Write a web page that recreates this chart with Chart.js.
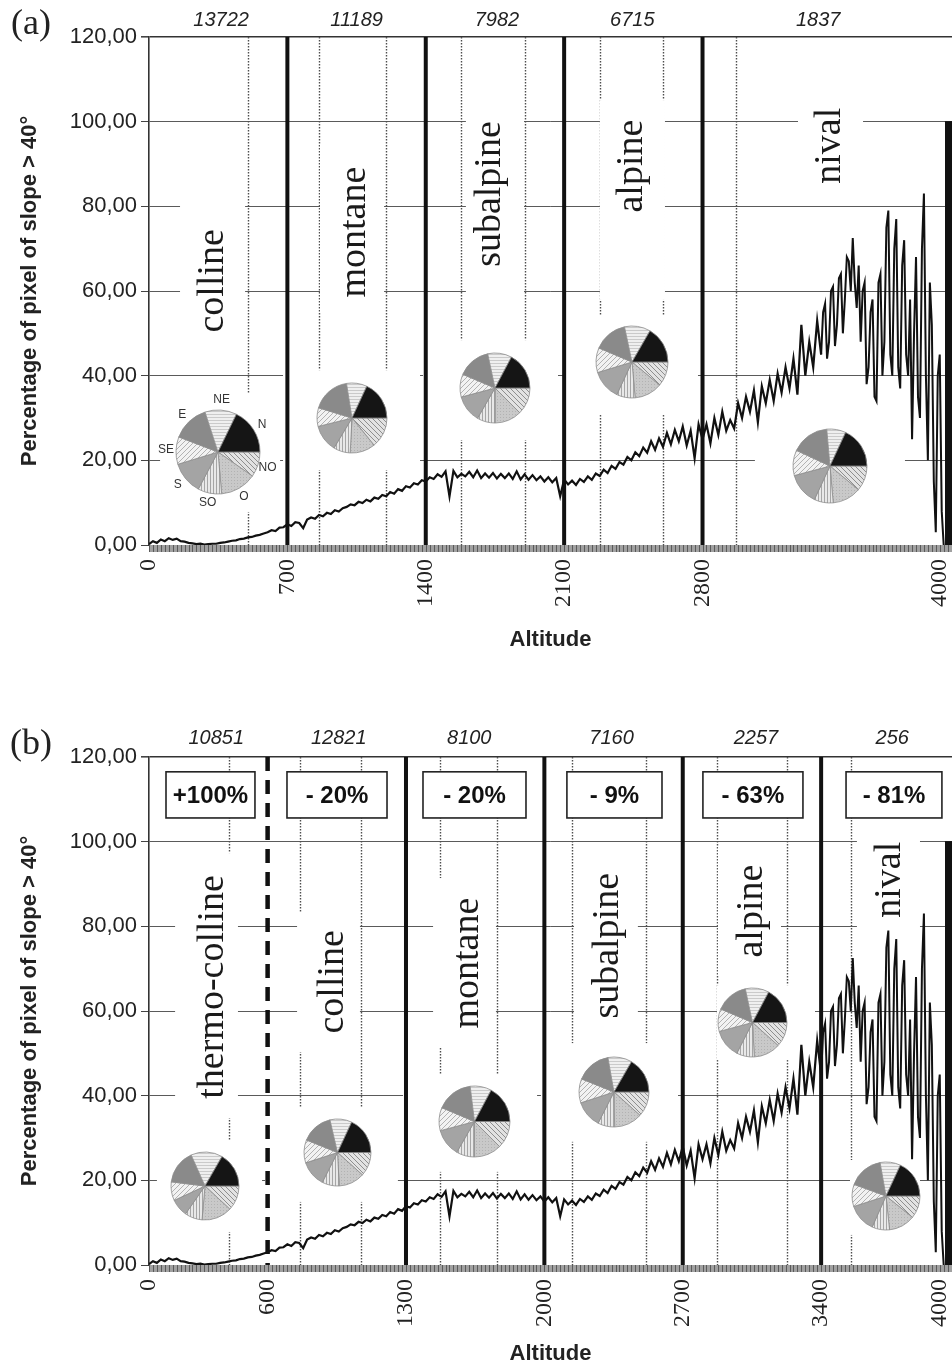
<!DOCTYPE html>
<html>
<head>
<meta charset="utf-8">
<script src="https://cdn.jsdelivr.net/npm/chart.js@4.4.1/dist/chart.umd.min.js"></script>
<style>
  body { margin: 0; background: #fff; }
  #page { position: relative; width: 952px; height: 1367px; overflow: hidden; background: #fff; }
  .panel { position: absolute; left: 0; width: 952px; }
  .pie { position: absolute; }
</style>
</head>
<body>
<div id="page">
  <div class="panel" id="wrapA" style="top:0;height:660px"><canvas id="chartA" width="952" height="660"></canvas></div>
  <div class="panel" id="wrapB" style="top:660px;height:707px"><canvas id="chartB" width="952" height="707"></canvas></div>
</div>
<script>
// ═══════════════════════════════════════
// Slope > 40° vs altitude — two zonings
// ═══════════════════════════════════════

// ── Data ──
// % of pixels with slope > 40°, 20 m altitude bins from 0 to 3400 m
const slopePct = [
  0.2, 0.9, 0.5, 1.3, 0.9, 1.6, 1.2, 1.5, 0.9, 0.8,
  0.5, 0.4, 0.2, 0.3, 0.1, 0.2, 0.3, 0.3, 0.5, 0.6,
  0.8, 1.0, 1.1, 1.4, 1.5, 1.8, 1.9, 2.2, 2.4, 2.7,
  3.0, 3.5, 3.3, 4.1, 4.2, 4.9, 4.5, 5.4, 5.2, 4.0,
  6.0, 6.5, 6.2, 7.1, 6.8, 7.6, 7.3, 8.2, 7.9, 8.7,
  9.0, 9.6, 9.4, 10.2, 9.9, 10.7, 10.3, 11.2, 10.9, 11.8,
  11.5, 12.5, 12.1, 13.2, 12.8, 13.9, 13.6, 14.6, 14.3, 15.3,
  15.0, 16.0, 15.6, 16.7, 16.1, 17.4, 11.5, 17.5, 16.0, 16.8,
  16.2, 17.3, 16.0, 17.6, 15.8, 16.9, 15.9, 17.0, 15.7, 16.8,
  15.8, 16.9, 15.6, 17.4, 15.5, 16.7, 15.4, 16.5, 15.3, 16.2,
  15.0, 16.0, 14.8, 15.8, 11.5, 15.5, 14.3, 15.2, 14.2, 15.6,
  14.9, 16.2, 15.4, 16.9, 16.3, 17.8, 17.0, 18.7, 18.0, 19.6,
  19.0, 20.8, 20.0, 21.9, 21.0, 23.0, 21.8, 24.5, 22.5, 25.2,
  23.2, 26.5, 23.8, 27.2, 24.5, 28.0, 23.5, 27.0, 20.5, 28.5,
  25.0, 28.5, 24.0, 30.0, 26.0, 31.5, 27.0, 29.5, 27.5, 33.5,
  30.0, 35.0, 31.5, 36.5, 29.0, 37.5, 33.5, 39.0, 34.0, 40.5,
  36.0, 42.0, 37.0, 44.0, 35.5, 52.0, 40.0, 48.0, 42.0, 53.0,
  45.0
];
// the noisy top of the range, 10 m bins from 3400 to 4020 m
const slopePctHigh = [
  45, 55, 57, 44, 48, 60, 61, 47, 52, 63,
  64, 50, 58, 68, 67, 60, 72.5, 62, 56, 66,
  48, 60, 62, 38, 42, 55, 58, 35, 34, 62,
  64, 40, 48, 75, 79, 45, 40, 70, 77, 42,
  37, 66, 72, 45, 40, 58, 25, 50, 68, 35,
  30, 70, 83, 40, 20, 62, 52, 15, 3, 40,
  45, 8, 0
];
const altitudes = slopePct.map((_, i) => i * 20);
const altitudesHigh = slopePctHigh.map((_, i) => 3400 + i * 10);
// the last bins (4026 m and above) are all 100 %
const edgeAlt = [4026, 4062];
const edgePct = [100, 100];

const xTicksA = [0, 700, 1400, 2100, 2800, 4000];
const xTicksB = [0, 600, 1300, 2000, 2700, 3400, 4000];

const zonesA = ['colline', 'montane', 'subalpine', 'alpine', 'nival'];
const countsA = ['13722', '11189', '7982', '6715', '1837'];
const limitsA = [700, 1400, 2100, 2800];

const zonesB = ['thermo-colline', 'colline', 'montane', 'subalpine', 'alpine', 'nival'];
const countsB = ['10851', '12821', '8100', '7160', '2257', '256'];
const changeB = ['+100%', '- 20%', '- 20%', '- 9%', '- 63%', '- 81%'];
const limitsB = [1300, 2000, 2700, 3400];
const dashedB = [600];

// aspect pies, clockwise from east: NO, O, SO, S, SE, E, NE, N
const aspects = ['NO', 'O', 'SO', 'S', 'SE', 'E', 'NE', 'N'];
const pieCollineA = [35, 50, 33, 45, 38, 51, 44, 64];
const pieMontaneA = [51, 42, 28, 45, 31, 64, 34, 65];
const pieSubalpineA = [45, 45, 30, 45, 38, 55, 40, 62];
const pieAlpineA = [40, 45, 30, 48, 40, 55, 42, 60];
const pieNivalA = [40, 45, 30, 50, 40, 60, 30, 65];
const pieThermoB = [43, 52, 30, 30, 32, 59, 54, 60];
const pieCollineB = [42, 45, 30, 45, 40, 55, 38, 65];
const pieMontaneB = [45, 45, 30, 45, 38, 60, 35, 62];
const pieSubalpineB = [42, 47, 28, 45, 40, 58, 40, 60];
const pieAlpineB = [42, 45, 30, 48, 38, 55, 40, 62];
const pieNivalB = [39, 45, 30, 48, 38, 60, 35, 65];

// ── Layout (altitude, %) ──
const layoutA = {
  tag: '(a)', tagY: 25, countY: 20,
  zones: zonesA, counts: countsA, limits: limitsA, dashed: [],
  labelAt: [[324, 62.4], [1042, 73.9], [1725, 82.9], [2443, 89.5], [3445, 94.3]],
  countAt: [365, 1050, 1760, 2445, 3385],
  dotted: [500, 860, 1200, 1580, 1900, 2280, 2600, 2970],
  masks: [[157, 486, 41.3, 98], [865, 1189, 55, 94.5], [1603, 1897, 57.9, 104.4], [2281, 2610, 57.9, 105.1], [3283, 3612, 83.9, 105.1],
          [56, 663, 7.8, 35.9], [678, 1371, 17.7, 41.3], [1386, 2069, 24.8, 48.4], [2104, 2777, 30.7, 54.3], [3065, 3824, 8.7, 27.6]],
  boxes: [],
  pies: [
    { alt: 349, v: 22.0, r: 42, data: pieCollineA, named: true },
    { alt: 1027, v: 30.0, r: 35, data: pieMontaneA },
    { alt: 1750, v: 37.1, r: 35, data: pieSubalpineA },
    { alt: 2443, v: 43.2, r: 36, data: pieAlpineA },
    { alt: 3445, v: 18.7, r: 37, data: pieNivalA }
  ]
};
const layoutB = {
  tag: '(b)', tagY: 85, countY: 78,
  zones: zonesB, counts: countsB, limits: limitsB, dashed: dashedB,
  labelAt: [[324, 65.7], [931, 66.9], [1614, 71.3], [2322, 75.4], [3050, 83.6], [3748, 91.0]],
  countAt: [340, 960, 1620, 2340, 3070, 3760],
  dotted: [405, 764, 1072, 1472, 1760, 2140, 2514, 2873, 3227, 3551],
  masks: [[132, 450, 34.7, 97.3], [749, 1067, 50.3, 83.4], [1437, 1755, 51.5, 91.4], [2150, 2473, 52.4, 96.9], [2878, 3197, 68.5, 98.7], [3581, 3900, 78, 101.6],
          [40, 572, 7.8, 29.5], [587, 1259, 14.9, 37.1], [1285, 1963, 22, 44.9], [1983, 2676, 29.1, 52.4], [2873, 3369, 48.4, 66.1], [3546, 3900, 7.1, 24.8]],
  boxes: [[86, 536], [698, 1204], [1386, 1907], [2114, 2595], [2802, 3308], [3526, 4011]],
  boxText: changeB,
  pies: [
    { alt: 283, v: 18.7, r: 34, data: pieThermoB },
    { alt: 956, v: 26.5, r: 33.5, data: pieCollineB },
    { alt: 1649, v: 33.8, r: 35.5, data: pieMontaneB },
    { alt: 2352, v: 40.9, r: 35, data: pieSubalpineB },
    { alt: 3055, v: 57.4, r: 34.5, data: pieAlpineB },
    { alt: 3728, v: 16.3, r: 34, data: pieNivalB }
  ]
};

const SANS = '"Liberation Sans", Arial, sans-serif';
const SERIF = '"Liberation Serif", "Times New Roman", serif';
Chart.defaults.font.family = SANS;

// ── Fill patterns for the aspect slices ──
function pattern(bg, size, draw) {
  const c = document.createElement('canvas');
  c.width = c.height = size;
  const g = c.getContext('2d');
  g.fillStyle = bg; g.fillRect(0, 0, size, size);
  if (draw) { g.lineWidth = 1; draw(g, size); }
  return g.createPattern(c, 'repeat');
}
const hatch = (col, dir) => (g, s) => {
  g.strokeStyle = col; g.beginPath();
  if (dir > 0) { g.moveTo(-1, s + 1); g.lineTo(s + 1, -1); g.moveTo(-1, 1); g.lineTo(1, -1); g.moveTo(s - 1, s + 1); g.lineTo(s + 1, s - 1); }
  else { g.moveTo(-1, -1); g.lineTo(s + 1, s + 1); g.moveTo(s - 1, -1); g.lineTo(s + 1, 1); g.moveTo(-1, s - 1); g.lineTo(1, s + 1); }
  g.stroke();
};
const aspectFill = [
  pattern('#e2e2e2', 5, hatch('#8e8e8e', -1)),                                  // NO
  pattern('#c9c9c9', 3, (g) => { g.fillStyle = '#b2b2b2'; g.fillRect(0, 0, 1, 1); }), // O
  pattern('#e8e8e8', 3, (g) => { g.fillStyle = '#a6a6a6'; g.fillRect(0, 0, 1, 3); }), // SO
  '#a4a4a4',                                                                        // S
  pattern('#f2f2f2', 5, hatch('#b2b2b2', 1)),                                    // SE
  '#8a8a8a',                                                                        // E
  pattern('#efefef', 3, (g) => { g.fillStyle = '#cacaca'; g.fillRect(0, 0, 3, 1); }), // NE
  '#151515'                                                                         // N
];

// ── Zone decorations ──
const zonePlugin = {
  id: 'zones',
  beforeDatasetsDraw(chart, args, o) {
    const { ctx, chartArea: a, scales: { x, y } } = chart;
    ctx.save();
    // dotted sub-divisions
    ctx.strokeStyle = '#4e4e4e'; ctx.lineWidth = 1.4; ctx.setLineDash([1.5, 1.5]);
    o.dotted.forEach(v => {
      const px = Math.round(x.getPixelForValue(v)) + 0.5;
      ctx.beginPath(); ctx.moveTo(px, a.top); ctx.lineTo(px, a.bottom); ctx.stroke();
    });
    ctx.setLineDash([]);
    // white panels behind the names and pies
    ctx.fillStyle = '#fff';
    o.masks.forEach(m => {
      const x0 = x.getPixelForValue(m[0]), x1 = x.getPixelForValue(m[1]);
      const y0 = y.getPixelForValue(m[3]), y1 = y.getPixelForValue(m[2]);
      ctx.fillRect(x0, y0, x1 - x0, y1 - y0);
    });
    // zone limits
    ctx.strokeStyle = '#111'; ctx.lineWidth = 4;
    o.limits.forEach(v => {
      const px = x.getPixelForValue(v);
      ctx.beginPath(); ctx.moveTo(px, a.top); ctx.lineTo(px, a.bottom + 6); ctx.stroke();
    });
    ctx.setLineDash([14, 9]); ctx.lineWidth = 4.5;
    o.dashed.forEach(v => {
      const px = x.getPixelForValue(v);
      ctx.beginPath(); ctx.moveTo(px, a.top); ctx.lineTo(px, a.bottom); ctx.stroke();
    });
    ctx.restore();
  },
  afterDatasetsDraw(chart, args, o) {
    const { ctx, chartArea: a, scales: { x, y } } = chart;
    ctx.save();
    // hatched axis band
    ctx.fillStyle = '#a0a0a0';
    ctx.fillRect(a.left, a.bottom, a.right - a.left, 7);
    ctx.strokeStyle = '#5a5a5a'; ctx.lineWidth = 1;
    for (let v = 0; v <= x.max; v += 20) {
      const px = Math.round(x.getPixelForValue(v)) + 0.5;
      ctx.beginPath(); ctx.moveTo(px, a.bottom); ctx.lineTo(px, a.bottom + 7); ctx.stroke();
    }
    // vertical zone names
    ctx.fillStyle = '#1a1a1a'; ctx.font = '38px ' + SERIF;
    ctx.textAlign = 'center'; ctx.textBaseline = 'middle';
    o.zones.forEach((t, i) => {
      const [al, v] = o.labelAt[i];
      ctx.save();
      ctx.translate(x.getPixelForValue(al), y.getPixelForValue(v));
      ctx.rotate(-Math.PI / 2);
      ctx.fillText(t, 0, 0);
      ctx.restore();
    });
    // pixel counts above the frame
    ctx.font = 'italic 20px ' + SANS; ctx.fillStyle = '#222';
    o.counts.forEach((t, i) => ctx.fillText(t, x.getPixelForValue(o.countAt[i]), o.countY));
    // change boxes
    ctx.font = 'bold 24px ' + SANS;
    o.boxes.forEach((b, i) => {
      const x0 = x.getPixelForValue(b[0]), x1 = x.getPixelForValue(b[1]);
      const y0 = y.getPixelForValue(116.5), y1 = y.getPixelForValue(105.6);
      ctx.fillStyle = '#fff'; ctx.fillRect(x0, y0, x1 - x0, y1 - y0);
      ctx.strokeStyle = '#222'; ctx.lineWidth = 1.6; ctx.strokeRect(x0, y0, x1 - x0, y1 - y0);
      ctx.fillStyle = '#111'; ctx.fillText(o.boxText[i], (x0 + x1) / 2, (y0 + y1) / 2 + 1);
    });
    // panel tag
    ctx.font = '36px ' + SERIF; ctx.fillStyle = '#222';
    ctx.fillText(o.tag, 31, o.tagY);
    ctx.restore();
  }
};

// ── Pie labels (first pie only) ──
const aspectNames = {
  id: 'aspectNames',
  afterDatasetsDraw(chart) {
    const { ctx } = chart;
    ctx.save();
    ctx.font = '12px ' + SANS; ctx.fillStyle = '#333';
    ctx.textAlign = 'center'; ctx.textBaseline = 'middle';
    chart.getDatasetMeta(0).data.forEach((arc, i) => {
      const p = arc.getProps(['x', 'y', 'startAngle', 'endAngle', 'outerRadius'], true);
      const m = (p.startAngle + p.endAngle) / 2, rr = p.outerRadius + 10;
      ctx.fillText(chart.data.labels[i], p.x + Math.cos(m) * rr, p.y + Math.sin(m) * rr);
    });
    ctx.restore();
  }
};

// ── Charts ──
const page = document.getElementById('page');

function buildPanel(id, wrapId, lay, xTicks, topPad, axisH, titlePad) {
  const points = altitudes.map((a, i) => ({ x: a, y: slopePct[i] }));
  const pointsHigh = altitudesHigh.map((a, i) => ({ x: a, y: slopePctHigh[i] }));
  const edge = edgeAlt.map((a, i) => ({ x: a, y: edgePct[i] }));
  const chart = new Chart(document.getElementById(id), {
    type: 'line',
    data: {
      datasets: [
        { data: points, borderColor: '#111', borderWidth: 2.2, pointRadius: 0, tension: 0, fill: false },
        { data: pointsHigh, borderColor: '#111', borderWidth: 2, pointRadius: 0, tension: 0, fill: false },
        { data: edge, borderColor: '#111', backgroundColor: '#111', borderWidth: 1, pointRadius: 0, fill: 'origin' }
      ]
    },
    options: {
      responsive: false, animation: false, events: [],
      layout: { padding: { top: topPad, right: 0, bottom: 0, left: 0 } },
      plugins: { legend: { display: false }, tooltip: { enabled: false }, zones: lay },
      scales: {
        x: {
          type: 'linear', min: 0, max: 4062,
          afterBuildTicks: s => { s.ticks = xTicks.map(v => ({ value: v })); },
          afterFit: s => { s.height = axisH; s.paddingLeft = 0; s.paddingRight = 0; },
          grid: { display: false, drawTicks: false }, border: { display: false },
          ticks: { autoSkip: false, minRotation: 90, maxRotation: 90, padding: 14, color: '#222',
                   font: { family: SERIF, size: 24 }, callback: v => String(v) },
          title: { display: true, text: 'Altitude', color: '#222', font: { weight: 'bold', size: 22 }, padding: { top: 0, bottom: titlePad } }
        },
        y: {
          min: 0, max: 120,
          afterFit: s => { s.width = 149; s.paddingTop = 0; s.paddingBottom = 0; },
          ticks: { stepSize: 20, padding: 4, color: '#222', font: { size: 22 }, callback: v => v.toFixed(2).replace('.', ',') },
          grid: {
            tickLength: 8, tickColor: '#444',
            color: c => c.tick.value === 0 ? 'rgba(0,0,0,0)' : (c.tick.value === 120 ? '#333' : '#5a5a5a'),
            lineWidth: c => c.tick.value === 120 ? 1.6 : 1
          },
          border: { display: true, color: '#333', width: 1.6 },
          title: { display: true, text: 'Percentage of pixel of slope > 40°', color: '#222', font: { weight: 'bold', size: 22 }, padding: { top: 17, bottom: 0 } }
        }
      }
    },
    plugins: [zonePlugin]
  });

  const wrap = document.getElementById(wrapId);
  lay.pies.forEach(p => {
    const pad = p.named ? 20 : 2;
    const size = Math.ceil(2 * p.r + 2 * pad);
    const cv = document.createElement('canvas');
    cv.width = size; cv.height = size; cv.className = 'pie';
    cv.style.left = (wrap.offsetLeft + chart.scales.x.getPixelForValue(p.alt) - size / 2) + 'px';
    cv.style.top = (wrap.offsetTop + chart.scales.y.getPixelForValue(p.v) - size / 2) + 'px';
    page.appendChild(cv);
    new Chart(cv, {
      type: 'pie',
      data: { labels: aspects, datasets: [{ data: p.data, backgroundColor: aspectFill, borderColor: '#8d8d8d', borderWidth: 0.8, hoverOffset: 0 }] },
      options: { responsive: false, animation: false, events: [], rotation: 90, radius: p.r,
                 layout: { padding: pad }, plugins: { legend: { display: false }, tooltip: { enabled: false } } },
      plugins: p.named ? [aspectNames] : []
    });
  });
  return chart;
}

buildPanel('chartA', 'wrapA', layoutA, xTicksA, 37, 115, 7);
buildPanel('chartB', 'wrapB', layoutB, xTicksB, 97, 102, 0);
</script>
</body>
</html>
